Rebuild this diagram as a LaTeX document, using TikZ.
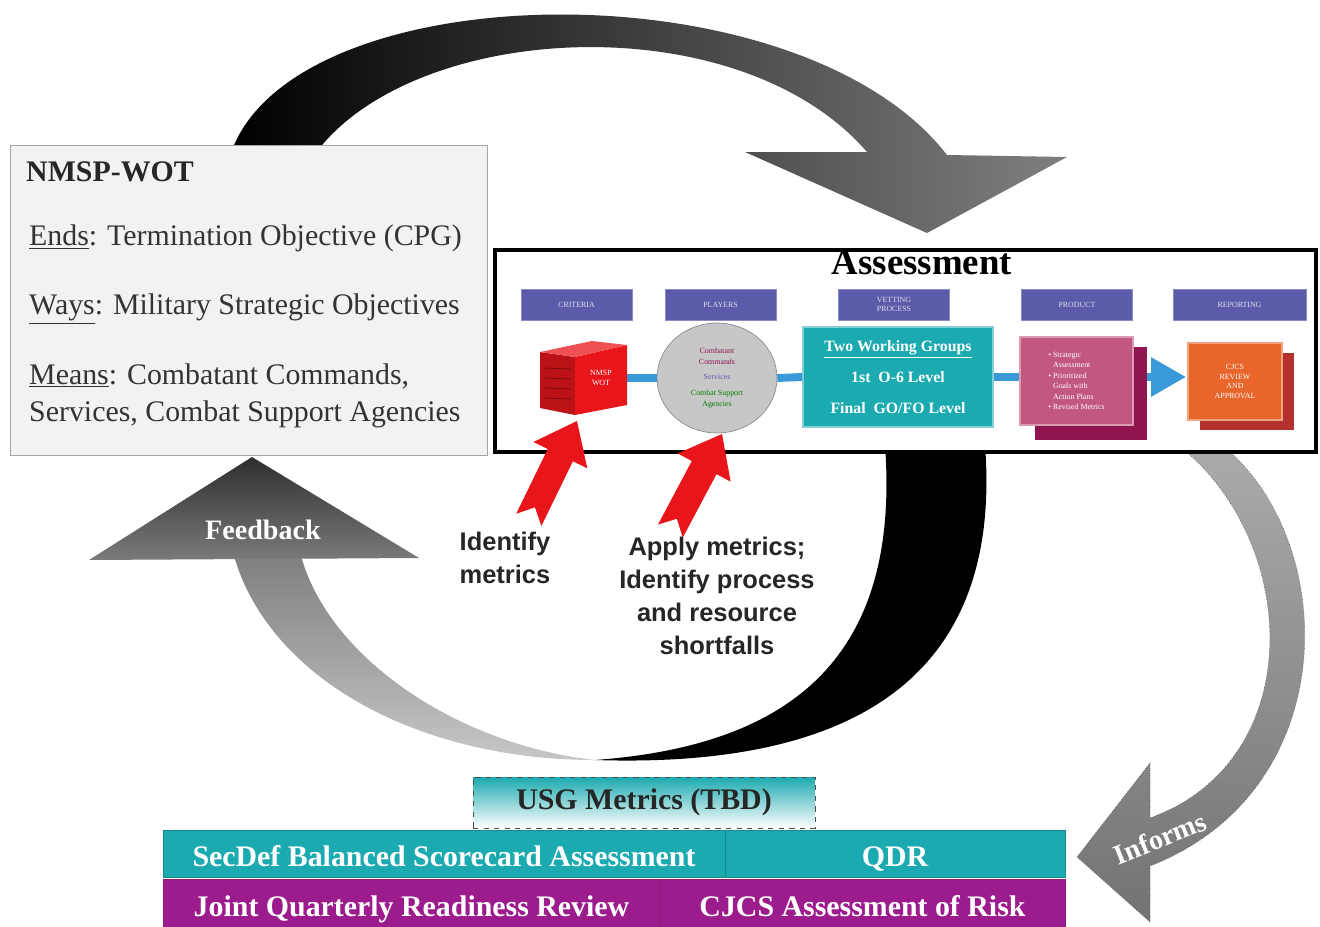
\documentclass[tikz,border=0pt]{standalone}
\usepackage{fontspec}
\setmainfont{Liberation Serif}
\setsansfont{Liberation Sans}
\usetikzlibrary{shapes.geometric,arrows.meta}

\definecolor{hdrblue}{HTML}{5B5BAA}
\definecolor{tealc}{HTML}{1BAAB0}
\definecolor{prodpink}{HTML}{C2587F}
\definecolor{prodback}{HTML}{8E1550}
\definecolor{repor}{HTML}{E8652B}
\definecolor{repback}{HTML}{B3312F}
\definecolor{barpurple}{HTML}{9C1C8E}
\definecolor{connblue}{HTML}{3A9AD9}
\definecolor{arrred}{HTML}{E8161B}

\begin{document}
\begin{tikzpicture}[x=0.02cm, y=-0.02cm,
    hdr/.style={fill=hdrblue, draw=hdrblue!70!white, text=white!80!hdrblue,
        font=\fontsize{4.5}{5}\selectfont, minimum width=2.22cm,
        minimum height=0.62cm, inner sep=1pt, align=center},
    tinytxt/.style={font=\fontsize{4.5}{5.5}\selectfont, text=white, align=center},
    conn/.style={connblue, line width=4.5pt},
    nmsptxt/.style={anchor=west, font=\fontsize{17}{20}\selectfont, text=black!80},
    bar/.style={font=\fontsize{17}{20}\selectfont\bfseries, text=white,
        minimum height=0.95cm, inner sep=0pt, text height=16pt, text depth=1.5pt},
    bigsans/.style={font=\sffamily\bfseries\fontsize{14.5}{18.7}\selectfont,
        align=center, text=black!85}]

    \useasboundingbox (0,0) rectangle (1320,927);
    \fill[white] (0,0) rectangle (1320,927);

    % --- Big loop arrows ---
    % Top arc, from NMSP-WOT into Assessment
    \shade[left color=black, middle color=black, right color=black!50]
        (232,150) .. controls (300,-28) and (800,-35) .. (947,155)
        -- (1067,157) -- (927,233) -- (745,152) -- (867,152)
        .. controls (740,5) and (420,20) .. (318,150) -- cycle;

    % Lower arc, black part
    \fill[black] (985,445) .. controls (1000,640) and (900,770) .. (595,760)
        .. controls (800,745) and (900,650) .. (885,445) -- cycle;

    % Lower arc, gray part with Feedback head
    \shade[top color=black!50, bottom color=black!22]
        (234,556) .. controls (270,680) and (420,760) .. (595,760)
        .. controls (460,745) and (330,660) .. (301,556) -- cycle;
    \shade[top color=black!82, bottom color=black!52]
        (89,560) -- (252,457) -- (419,558) -- cycle;
    \node[font=\fontsize{16}{18}\selectfont\bfseries, text=white] (feedback) at (263,530) {Feedback};

    % Informs arrow
    \shadedraw[top color=black!33, bottom color=black!55, draw=black!60, densely dotted]
        (1178,445) .. controls (1300,540) and (1310,760) .. (1150,818)
        -- (1150,763) -- (1077,857) -- (1150,922) -- (1150,866)
        .. controls (1345,790) and (1340,540) .. (1222,445) -- cycle;
    \node[font=\fontsize{16}{18}\selectfont\bfseries, text=white, rotate=22] (informs) at (1160,838) {Informs};

    % --- NMSP-WOT box ---
    \node[fill=black!5, draw=black!35, minimum width=9.54cm, minimum height=6.2cm] (nmsp) at (248.5,300) {};
    \node[nmsptxt, font=\fontsize{17}{20}\selectfont\bfseries, text=black!85] (nmsptitle) at (20,172) {NMSP-WOT};
    \node[nmsptxt] (ends) at (23,238) {\underline{Ends}: Termination Objective (CPG)};
    \node[nmsptxt] (ways) at (23,309) {\underline{Ways}: Military Strategic Objectives};
    \node[nmsptxt] (means) at (23,376) {\underline{Means}: Combatant Commands,};
    \node[nmsptxt] (means2) at (23,414) {Services, Combat Support Agencies};

    % --- Assessment box ---
    \node[fill=white, draw=black, line width=2.2pt, minimum width=16.42cm, minimum height=4.04cm] (assessbox) at (905.5,351) {};
    \node[font=\fontsize{21}{24}\selectfont\bfseries] (assesstitle) at (922,262) {Assessment};

    % column headers
    \node[hdr] (crit) at (576.5,304.5) {CRITERIA};
    \node[hdr] (playhdr) at (720.5,304.5) {PLAYERS};
    \node[hdr] (vethdr) at (894,304.5) {VETTING\\PROCESS};
    \node[hdr] (prodhdr) at (1077,304.5) {PRODUCT};
    \node[hdr, minimum width=2.66cm] (rephdr) at (1239.5,304.5) {REPORTING};

    % blue flow line (drawn first, boxes sit on it)
    \coordinate (cabright) at (627,378);
    \node[ellipse, fill=black!22, draw=black!45, minimum width=2.4cm, minimum height=2.2cm,
        align=center, font=\fontsize{4.5}{6}\selectfont] (players) at (717,378)
        {\textcolor{prodback}{Combatant}\\\textcolor{prodback}{Commands}\\[3pt]
         \textcolor{hdrblue}{Services}\\[3pt]
         \textcolor{green!50!black}{Combat Support}\\\textcolor{green!50!black}{Agencies}};
    \node[fill=tealc, draw=tealc!55!white, line width=1pt, minimum width=3.8cm, minimum height=2cm,
        align=center, text=white, font=\fontsize{9}{17.5}\selectfont\bfseries] (vetbox) at (898,377)
        {\underline{Two Working Groups}\\1st~~O-6 Level\\Final~~GO/FO Level};
    \node[fill=prodback, minimum width=2.24cm, minimum height=1.86cm] (prodback) at (1091,393.5) {};
    \node[fill=repback, minimum width=1.88cm, minimum height=1.54cm] (repback) at (1247,391.5) {};

    \draw[conn] (cabright) -- (players.west);
    \draw[conn] (players.east) -- (vetbox.west);
    \draw[conn] (vetbox.east) -- (vetbox.east -| prodback.west);
    \draw[conn, -{Triangle[length=0.7cm, width=0.75cm]}] (prodback.east |- vetbox) -- (1186,377);

    % criteria cabinet
    \fill[arrred!80!black] (540,352) -- (575,357) -- (575,415) -- (540,408) -- cycle;
    \fill[arrred] (575,357) -- (627,345) -- (627,405) -- (575,415) -- cycle;
    \fill[arrred!75!white] (540,352) -- (592,341) -- (627,345) -- (575,357) -- cycle;
    \foreach \yy in {368,378,388,398}
        \draw[arrred!50!black, line width=0.4pt] (544,\yy) -- (571,\yy+1);
    \node[tinytxt, minimum width=1.04cm] (cabinet) at (601,378) {NMSP\\WOT};

    % product
    \node[fill=prodpink, draw=prodpink!60!white, line width=0.6pt, minimum width=2.26cm, minimum height=1.76cm,
        align=left, text=white, font=\fontsize{4.5}{6}\selectfont] (product) at (1076.5,381)
        {\textbullet\ Strategic\\\phantom{\textbullet}\ Assessment\\\textbullet\ Prioritized\\
         \phantom{\textbullet}\ Goals with\\\phantom{\textbullet}\ Action Plans\\\textbullet\ Revised Metrics};

    % reporting
    \node[fill=repor, draw=repor!60!white, line width=0.6pt, minimum width=1.88cm, minimum height=1.54cm,
        tinytxt] (reporting) at (1235,381.5) {CJCS\\REVIEW\\AND\\APPROVAL};

    % --- Red arrows ---
    \begin{scope}[shift={(577,421)}, rotate=64]
        \fill[arrred] (0,0) -- (-38,30) -- (-38,14) -- (-110,14) -- (-96,0)
            -- (-110,-14) -- (-38,-14) -- (-38,-30) -- cycle;
    \end{scope}
    \begin{scope}[shift={(722,434)}, rotate=62]
        \fill[arrred] (0,0) -- (-38,30) -- (-38,14) -- (-110,14) -- (-96,0)
            -- (-110,-14) -- (-38,-14) -- (-38,-30) -- cycle;
    \end{scope}

    \node[bigsans] (identify) at (505,558) {Identify\\metrics};
    \node[bigsans] (apply) at (717,596) {Apply metrics;\\Identify process\\and resource\\shortfalls};

    % --- Bottom bars ---
    \node[draw=black!70, dashed, top color=tealc, bottom color=white, minimum width=6.84cm, minimum height=1.02cm,
        font=\fontsize{17}{20}\selectfont\bfseries, text=black!85] (usg) at (644,802.5) {USG Metrics (TBD)};
    \node[bar, fill=tealc, draw=tealc!80!black, minimum width=11.24cm] (secdef) at (444,854) {SecDef Balanced Scorecard Assessment};
    \node[bar, fill=tealc, draw=tealc!80!black, minimum width=6.8cm] (qdr) at (895,854) {QDR};
    \node[bar, fill=barpurple, draw=barpurple!90!black, minimum width=9.94cm] (jqrr) at (411.5,903.5) {Joint Quarterly Readiness Review};
    \node[bar, fill=barpurple, draw=barpurple!90!black, minimum width=8.1cm] (cjcs) at (862.5,903.5) {CJCS Assessment of Risk};

\end{tikzpicture}
\end{document}
